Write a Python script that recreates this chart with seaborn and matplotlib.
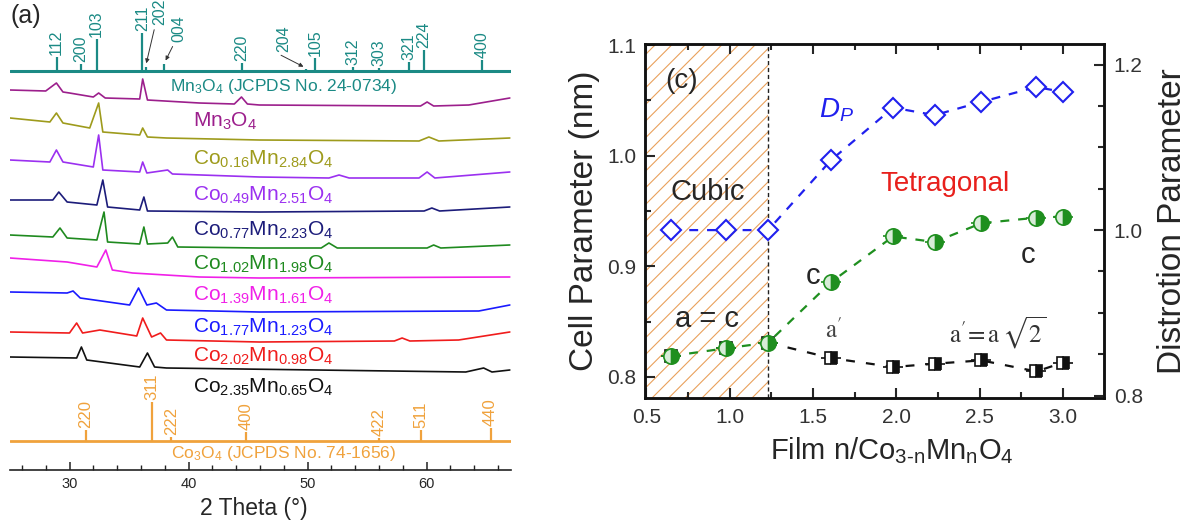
import numpy as np
import pandas as pd
import matplotlib
matplotlib.use('Agg')
import matplotlib.pyplot as plt
import seaborn as sns
from matplotlib.ticker import MultipleLocator, FormatStrFormatter

# ---------------- panel (a): XRD patterns (2theta in deg, intensity a.u., stacked)
tt_mn3o4 = [25.0, 28.0, 28.9, 29.45, 30.0, 32.0, 32.45, 33.0, 35.9, 36.15, 36.55, 40.9, 43.85, 44.45, 44.95, 45.95, 59.5, 60.05, 60.6, 63.55, 67.0]
int_mn3o4 = [380, 379, 387, 378, 377, 373, 377, 372, 371, 391, 370, 367, 366, 373, 366, 365, 364, 368, 364, 365, 372]
tt_co016 = [25.0, 28.35, 28.9, 29.45, 31.7, 32.45, 32.8, 35.9, 36.15, 36.55, 38.15, 45.95, 59.37, 60.2, 61.04, 67.0]
int_co016 = [352, 348, 357, 347, 342, 367, 338, 335, 342, 333, 332, 330, 329, 333, 329, 332]
tt_co049 = [25.0, 28.35, 28.9, 29.45, 32.0, 32.45, 32.8, 35.9, 36.15, 36.5, 38.25, 38.65, 45.95, 51.8, 52.65, 53.5, 59.37, 60.05, 60.7, 67.0]
int_co049 = [310, 308, 320, 308, 303, 335, 300, 298, 308, 297, 300, 296, 293, 292, 295, 292, 292, 298, 292, 298]
tt_co077 = [25.0, 28.6, 29.1, 29.8, 32.3, 32.8, 33.2, 35.9, 36.25, 36.55, 45.95, 59.8, 60.45, 61.1, 67.0]
int_co077 = [270, 270, 278, 268, 265, 290, 263, 260, 273, 259, 258, 259, 262, 259, 263]
tt_co102 = [25.0, 28.6, 29.2, 29.8, 32.3, 32.9, 33.2, 35.9, 36.25, 36.55, 38.25, 38.65, 39.1, 45.95, 51.15, 51.8, 52.5, 60.05, 60.6, 61.2, 67.0]
int_co102 = [235, 233, 242, 232, 230, 258, 228, 226, 243, 226, 227, 233, 223, 222, 222, 227, 222, 222, 225, 222, 225]
tt_co139 = [25.0, 29.8, 32.3, 33.05, 33.6, 35.3, 40.9, 45.95, 67.0]
int_co139 = [212, 208, 203, 220, 200, 197, 193, 192, 193]
tt_co177 = [25.0, 29.8, 30.3, 30.9, 35.05, 35.8, 36.5, 37.3, 38.15, 45.95, 64.4, 67.0]
int_co177 = [178, 177, 179, 172, 165, 182, 165, 167, 160, 158, 159, 165]
tt_co202 = [25.0, 30.0, 30.6, 31.1, 32.55, 35.65, 36.15, 36.9, 37.65, 38.15, 45.95, 57.3, 57.95, 58.6, 62.7, 67.0]
int_co202 = [138, 137, 147, 137, 140, 134, 152, 133, 137, 130, 128, 129, 132, 129, 130, 138]
tt_co235 = [25.0, 30.6, 31.0, 31.45, 35.9, 36.55, 37.15, 38.15, 63.3, 64.8, 65.5, 67.0]
int_co235 = [113, 112, 123, 110, 103, 117, 103, 102, 98, 102, 98, 100]

sample_names = ['Mn$_3$O$_4$', 'Co$_{0.16}$Mn$_{2.84}$O$_4$', 'Co$_{0.49}$Mn$_{2.51}$O$_4$',
                'Co$_{0.77}$Mn$_{2.23}$O$_4$', 'Co$_{1.02}$Mn$_{1.98}$O$_4$', 'Co$_{1.39}$Mn$_{1.61}$O$_4$',
                'Co$_{1.77}$Mn$_{1.23}$O$_4$', 'Co$_{2.02}$Mn$_{0.98}$O$_4$', 'Co$_{2.35}$Mn$_{0.65}$O$_4$']
sample_colors = ['#9c1f8c', '#9e9b1c', '#9b30f0', '#1c1c7a', '#1f8a1f', '#f020e8', '#1a1aff', '#f01c1c', '#111111']
label_int = [343, 305, 269, 234, 200, 169, 137, 108, 77]

# reference sticks
mn_hkl = ['112', '200', '103', '211', '202', '004', '220', '204', '105', '312', '303', '321', '224', '400']
mn_tt = [28.91, 30.95, 32.27, 36.12, 36.40, 37.97, 44.47, 49.87, 50.62, 53.86, 56.01, 58.53, 59.81, 64.68]
mn_h = [14, 7, 32, 38, 4, 7, 8, 2, 13, 4, 3, 9, 21, 11]
co_hkl = ['220', '311', '222', '400', '422', '511', '440']
co_tt = [31.37, 36.93, 38.55, 44.84, 56.01, 59.51, 65.38]
co_h = [11, 39, 4, 9, 3, 11, 13]

# ---------------- panel (c): cell parameters vs n
n_film = [0.65, 0.98, 1.23, 1.61, 1.98, 2.23, 2.51, 2.84, 3.0]
c_nm = [0.819, 0.826, 0.831, 0.886, 0.927, 0.922, 0.939, 0.944, 0.945]
a_nm = [0.819, 0.826, 0.831, 0.817, 0.809, 0.812, 0.815, 0.805, 0.813]
dp = [1.0, 1.0, 1.0, 1.085, 1.148, 1.139, 1.155, 1.173, 1.167]
n_err = [0.06, 0.06, 0.06, 0.06, 0.06, 0.06, 0.06, 0.06, 0.06]

sns.set_theme(style='ticks')
plt.rcParams['font.family'] = ['Liberation Sans', 'DejaVu Sans']
plt.rcParams['mathtext.fontset'] = 'custom'
plt.rcParams['mathtext.rm'] = 'Liberation Sans'
plt.rcParams['mathtext.it'] = 'Liberation Sans:italic'
plt.rcParams['mathtext.bf'] = 'Liberation Sans:bold'
plt.rcParams['hatch.linewidth'] = 0.8

teal = '#1b8a85'
orange = '#f0a23c'

fig = plt.figure(figsize=(11.91, 5.23), dpi=100)

# ---- (a)
ax = fig.add_axes([10 / 1191, 53 / 523, 501 / 1191, 470 / 523])
traces = [(tt_mn3o4, int_mn3o4), (tt_co016, int_co016), (tt_co049, int_co049), (tt_co077, int_co077),
          (tt_co102, int_co102), (tt_co139, int_co139), (tt_co177, int_co177), (tt_co202, int_co202),
          (tt_co235, int_co235)]
df_xrd = pd.concat([pd.DataFrame({'tt': t, 'I': i, 'sample': name})
                    for (t, i), name in zip(traces, sample_names)], ignore_index=True)
sns.lineplot(data=df_xrd, x='tt', y='I', hue='sample', palette=dict(zip(sample_names, sample_colors)),
             estimator=None, sort=False, legend=False, lw=1.2, ax=ax)

for name, col, yi in zip(sample_names, sample_colors, label_int):
    ax.text(40.35, yi, name, color=col, fontsize=15, va='baseline', ha='left')

# Mn3O4 reference
mn_base = 399
ax.axhline(mn_base, color=teal, lw=2.2)
ax.vlines(mn_tt, mn_base, [mn_base + h for h in mn_h], color=teal, lw=1.6)
arrow_lab = {'202': (37.57, 445), '004': (39.17, 428), '204': (47.97, 418)}
for hkl, t, h in zip(mn_hkl, mn_tt, mn_h):
    if hkl in arrow_lab:
        lx, ly = arrow_lab[hkl]
        ax.text(lx, ly, hkl, rotation=90, ha='center', va='bottom', color=teal, fontsize=11.5)
        ax.annotate('', xy=(t, mn_base + h + 1), xytext=(lx - 0.4, ly - 2),
                    arrowprops=dict(arrowstyle='-|>', color='#333333', lw=0.7, mutation_scale=6))
    else:
        ax.text(t, mn_base + h + 2, hkl, rotation=90, ha='center', va='bottom', color=teal, fontsize=11.5)
ax.text(47.97, 379, 'Mn$_3$O$_4$ (JCPDS No. 24-0734)', color=teal, fontsize=12.5, ha='center', va='baseline')

# Co3O4 reference
co_base = 29
ax.axhline(co_base, color=orange, lw=2.0)
ax.vlines(co_tt, co_base, [co_base + h for h in co_h], color=orange, lw=1.6)
for hkl, t, h in zip(co_hkl, co_tt, co_h):
    ax.text(t, co_base + h + 2, hkl, rotation=90, ha='center', va='bottom', color=orange, fontsize=12)
ax.text(47.97, 12, 'Co$_3$O$_4$ (JCPDS No. 74-1656)', color=orange, fontsize=12.5, ha='center', va='baseline')

ax.set_xlim(25, 67.1)
ax.set_ylim(0, 470)
for s in ['left', 'right', 'top']:
    ax.spines[s].set_visible(False)
ax.spines['bottom'].set_linewidth(1.2)
ax.spines['bottom'].set_color('#222222')
ax.set_yticks([])
ax.xaxis.set_major_locator(MultipleLocator(10))
ax.xaxis.set_minor_locator(MultipleLocator(2))
ax.tick_params(axis='x', which='both', direction='in', labelsize=10.5, pad=5, color='#222222')
ax.tick_params(axis='x', which='major', length=6, width=1.1)
ax.tick_params(axis='x', which='minor', length=3.5, width=1.0)
ax.set_xlabel('2 Theta (°)', fontsize=16.5)
ax.xaxis.set_label_coords(0.487, -0.058)
ax.set_ylabel('')
ax.patch.set_alpha(0)
fig.text(10 / 1191, 1 - 4 / 523, '(a)', fontsize=18, va='top', ha='left')

# ---- (c)
green = '#1f8f1f'
blue = '#2020ee'
axc = fig.add_axes([644.5 / 1191, 125 / 523, 459.5 / 1191, 354 / 523])
axc.axvspan(0.488, 1.23, facecolor='none', edgecolor='#e9a15c', hatch='//', lw=0, zorder=0)
axc.axvline(1.23, color='#222222', ls=(0, (3, 2)), lw=1.0, zorder=1)

sns.lineplot(x=n_film, y=c_nm, ax=axc, color=green, lw=1.6, linestyle=(0, (4, 4)), zorder=2)
sns.lineplot(x=n_film[2:], y=a_nm[2:], ax=axc, color='#111111', lw=1.6, linestyle=(0, (4, 5)), zorder=2)
axc.errorbar(n_film, a_nm, xerr=n_err, fmt='s', ms=9, mfc='#111111', mfcalt='white', fillstyle='right',
             mec='#111111', mew=1.2, ecolor='#111111', elinewidth=1.2, capsize=0, zorder=3)
axc.errorbar(n_film, c_nm, xerr=n_err, fmt='o', ms=11, mfc=green, mfcalt='#d8ecd8', fillstyle='right',
             mec=green, mew=1.2, ecolor=green, elinewidth=1.2, capsize=0, zorder=4)

axc.set_xlim(0.488, 3.246)
axc.set_ylim(0.781, 1.101)
axc.xaxis.set_major_locator(MultipleLocator(0.5))
axc.xaxis.set_minor_locator(MultipleLocator(0.25))
axc.yaxis.set_major_locator(MultipleLocator(0.1))
axc.yaxis.set_minor_locator(MultipleLocator(0.05))
axc.xaxis.set_major_formatter(FormatStrFormatter('%.1f'))
axc.yaxis.set_major_formatter(FormatStrFormatter('%.1f'))
axc.tick_params(which='both', direction='in', top=True, right=False, labelsize=15, labelcolor='#333333', width=1.5)
axc.tick_params(which='major', length=7)
axc.tick_params(which='minor', length=4)
axc.tick_params(axis='x', pad=7)
axc.tick_params(axis='y', pad=6)
for s in axc.spines.values():
    s.set_linewidth(1.8)
    s.set_color('#111111')
axc.set_xlabel('Film n/Co$_{3\\text{-n}}$Mn$_\\mathrm{n}$O$_4$', fontsize=21)
axc.xaxis.set_label_coords(0.539, -0.105)
axc.set_ylabel('Cell Parameter (nm)', fontsize=24)
axc.yaxis.set_label_coords(-0.097, 0.5)

axr = axc.twinx()
sns.lineplot(x=n_film, y=dp, ax=axr, color=blue, lw=1.6, linestyle=(0, (4, 4)), zorder=2)
axr.errorbar(n_film, dp, xerr=n_err, fmt='D', ms=10, mfc='white', mec=blue, mew=1.5,
             ecolor=blue, elinewidth=1.2, capsize=0, zorder=3)
axr.set_ylim(0.797, 1.225)
axr.yaxis.set_major_locator(MultipleLocator(0.2))
axr.yaxis.set_minor_locator(MultipleLocator(0.05))
axr.yaxis.set_major_formatter(FormatStrFormatter('%.1f'))
axr.tick_params(which='both', direction='in', labelsize=15, labelcolor='#333333', width=1.5, pad=7)
axr.tick_params(which='major', length=7)
axr.tick_params(which='minor', length=4)
for s in axr.spines.values():
    s.set_linewidth(1.8)
    s.set_color('#111111')
axr.set_ylabel('Distrotion Parameter', fontsize=24)
axr.yaxis.set_label_coords(1.115, 0.5)

axc.text(0.71, 1.068, '(c)', fontsize=20, ha='center', va='center')
axc.text(0.866, 0.967, 'Cubic', fontsize=21, ha='center', va='center')
axc.text(2.29, 0.974, 'Tetragonal', fontsize=20, ha='center', va='center', color='#e8201c')
axc.text(1.64, 1.041, '$D_P$', fontsize=20, ha='center', va='center', color=blue)
axc.text(2.79, 0.910, 'c', fontsize=21, ha='center', va='center')
axc.text(1.497, 0.891, 'c', fontsize=21, ha='center', va='center')
axc.text(0.861, 0.852, 'a = c', fontsize=21, ha='center', va='center')
axc.text(1.625, 0.842, "$\\mathrm{a}^{\\prime}$", fontsize=18, ha='center', va='center', color='#444444',
         math_fontfamily='stix')
axc.text(2.607, 0.840, "$\\mathrm{a}^{\\prime}\\!=\\mathrm{a}\\,\\sqrt{2}$", fontsize=18, ha='center', va='center',
         color='#333333', math_fontfamily='stix')

fig.savefig('out.png', dpi=100)
